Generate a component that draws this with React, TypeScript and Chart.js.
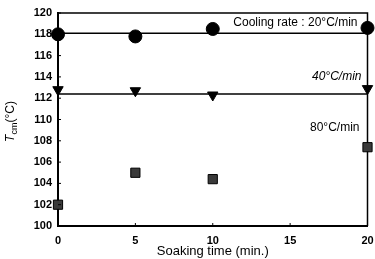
import React, { useEffect, useRef } from "react";
import { Chart, registerables } from "chart.js";

Chart.register(...registerables);

const soakTimes = [0, 5, 10, 20];
const rate20 = [118.0, 117.8, 118.5, 118.6];
const rate40 = [112.8, 112.7, 112.3, 112.9];
const rate80 = [102.0, 105.0, 104.4, 107.4];
const fitX = [0, 20];
const fit20 = [118.1, 118.1];
const fit40 = [112.4, 112.4];
const xTicks = [0, 5, 10, 15, 20];
const yTicks = [100, 102, 104, 106, 108, 110, 112, 114, 116, 118, 120];
const labels = [
  { text: "Cooling rate : 20°C/min", y: 119.1, italic: false, dx: 10 },
  { text: "40°C/min", y: 114.0, italic: true, dx: 6 },
  { text: "80°C/min", y: 109.2, italic: false, dx: 8 },
];

const FONT = "'Liberation Sans', Arial, sans-serif";

const toPts = (xs: number[], ys: number[]) => xs.map((x, i) => ({ x, y: ys[i] }));

const frame = {
  id: "frame",
  beforeDatasetsDraw(chart: any) {
    const { ctx, chartArea } = chart;
    ctx.save();
    ctx.strokeStyle = "#000";
    ctx.lineWidth = 1.5;
    ctx.beginPath();
    ctx.moveTo(chartArea.left, chartArea.top);
    ctx.lineTo(chartArea.right, chartArea.top);
    ctx.lineTo(chartArea.right, chartArea.bottom);
    ctx.stroke();
    ctx.restore();
  },
};

const decor = {
  id: "decor",
  afterDatasetsDraw(chart: any) {
    const { ctx, chartArea, scales } = chart;
    const xs = scales.x;
    const ys = scales.y;
    ctx.save();
    ctx.strokeStyle = "#000";
    ctx.lineWidth = 1;
    xTicks.forEach((v) => {
      const px = xs.getPixelForValue(v);
      ctx.beginPath();
      ctx.moveTo(px, chartArea.bottom);
      ctx.lineTo(px, chartArea.bottom - 3);
      ctx.stroke();
    });
    yTicks.forEach((v) => {
      const py = ys.getPixelForValue(v);
      ctx.beginPath();
      ctx.moveTo(chartArea.left, py);
      ctx.lineTo(chartArea.left + 3, py);
      ctx.stroke();
    });
    ctx.fillStyle = "#000";
    ctx.textAlign = "right";
    ctx.textBaseline = "middle";
    labels.forEach((l) => {
      ctx.font = `${l.italic ? "italic " : ""}12px ${FONT}`;
      ctx.fillText(l.text, chartArea.right - l.dx, ys.getPixelForValue(l.y));
    });
    ctx.font = `13px ${FONT}`;
    ctx.textAlign = "center";
    ctx.textBaseline = "middle";
    ctx.fillText("Soaking time (min.)", (chartArea.left + chartArea.right) / 2, 251);
    ctx.translate(11, (chartArea.top + chartArea.bottom) / 2 + 2);
    ctx.rotate(-Math.PI / 2);
    ctx.textAlign = "left";
    ctx.textBaseline = "middle";
    const tFont = `italic 12px ${FONT}`;
    const subFont = `9px ${FONT}`;
    const restFont = `12px ${FONT}`;
    ctx.font = tFont;
    const wT = ctx.measureText("T").width;
    ctx.font = subFont;
    const wSub = ctx.measureText("cm").width;
    ctx.font = restFont;
    const wRest = ctx.measureText("(°C)").width;
    let x0 = -(wT + wSub + wRest) / 2;
    ctx.font = tFont;
    ctx.fillText("T", x0, 0);
    x0 += wT;
    ctx.font = subFont;
    ctx.fillText("cm", x0, 4);
    x0 += wSub;
    ctx.font = restFont;
    ctx.fillText("(°C)", x0, 0);
    ctx.restore();
  },
};

export default function App() {
  const ref = useRef<HTMLCanvasElement>(null);
  useEffect(() => {
    document.body.style.margin = "0";
    const chart = new Chart(ref.current!, {
      type: "scatter",
      data: {
        datasets: [
          {
            type: "line",
            data: toPts(fitX, fit20),
            borderColor: "#000",
            borderWidth: 1.5,
            pointRadius: 0,
            clip: false,
          } as any,
          {
            type: "line",
            data: toPts(fitX, fit40),
            borderColor: "#000",
            borderWidth: 1.5,
            pointRadius: 0,
            clip: false,
          } as any,
          {
            data: toPts(soakTimes, rate20),
            pointStyle: "circle",
            pointRadius: 6.5,
            backgroundColor: "#000",
            borderColor: "#000",
            clip: false,
          } as any,
          {
            data: toPts(soakTimes, rate40),
            pointStyle: "triangle",
            rotation: 180,
            pointRadius: 6,
            backgroundColor: "#000",
            borderColor: "#000",
            clip: false,
          } as any,
          {
            data: toPts(soakTimes, rate80),
            pointStyle: "rect",
            pointRadius: 6.5,
            backgroundColor: "#3a3a3a",
            borderColor: "#000",
            borderWidth: 1,
            clip: false,
          } as any,
        ],
      },
      options: {
        animation: false,
        responsive: false,
        events: [],
        layout: { padding: { top: 13, right: 7, left: 0, bottom: 0 } },
        plugins: { legend: { display: false }, tooltip: { enabled: false } },
        scales: {
          x: {
            type: "linear",
            min: 0,
            max: 20,
            afterFit: (s: any) => { s.height = 33; s.paddingLeft = 0; s.paddingRight = 0; },
            afterBuildTicks: (s: any) => { s.ticks = xTicks.map((v) => ({ value: v })); },
            grid: { display: false, drawTicks: false },
            border: { display: true, color: "#000", width: 2 },
            ticks: { color: "#000", font: { family: FONT, size: 11, weight: "bold" }, padding: 8, maxRotation: 0 },
          },
          y: {
            type: "linear",
            min: 100,
            max: 120,
            afterFit: (s: any) => { s.width = 58; s.paddingTop = 0; s.paddingBottom = 0; },
            afterBuildTicks: (s: any) => { s.ticks = yTicks.map((v) => ({ value: v })); },
            grid: { display: false, drawTicks: false },
            border: { display: true, color: "#000", width: 2 },
            ticks: { color: "#000", font: { family: FONT, size: 11, weight: "bold" }, padding: 6 },
          },
        },
      } as any,
      plugins: [frame, decor],
    });
    return () => chart.destroy();
  }, []);
  return (
    <div style={{ position: "absolute", left: 0, top: 0, width: 375, height: 259 }}>
      <canvas ref={ref} width={375} height={259} style={{ width: 375, height: 259 }} />
    </div>
  );
}
